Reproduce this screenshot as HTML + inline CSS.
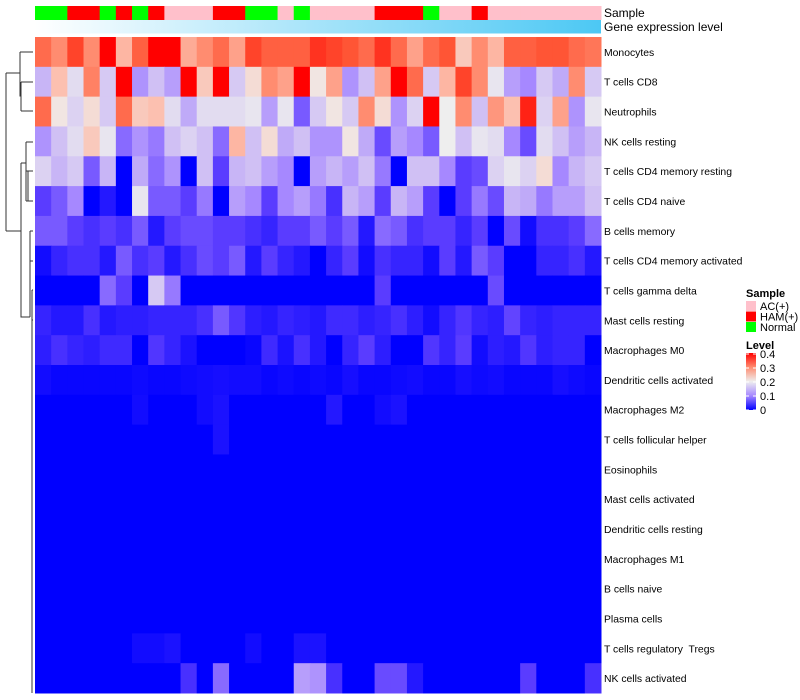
<!DOCTYPE html>
<html><head><meta charset="utf-8"><style>
body{margin:0;background:#fff;}
svg{display:block;font-family:"Liberation Sans",sans-serif;}
#labels text{white-space:pre;}
</style></head><body>
<svg id="chart" width="800" height="700" viewBox="0 0 800 700">
<defs>
<linearGradient id="geneGrad" x1="0" x2="1" y1="0" y2="0"><stop offset="0" stop-color="#ffffff"/><stop offset="1" stop-color="#4cc8f4"/></linearGradient>
<linearGradient id="levelGrad" x1="0" x2="0" y1="1" y2="0"><stop offset="0" stop-color="#0000ff"/><stop offset="0.25" stop-color="#a688ff"/><stop offset="0.5" stop-color="#eeeeee"/><stop offset="0.75" stop-color="#ff8c70"/><stop offset="1" stop-color="#ff0000"/></linearGradient>
</defs>
<g id="dendro" stroke="#333" fill="none" stroke-width="1">
<path d="M20,52 H33 M21,82 H33 M21,111 H33 M21,82 V111 M20,52 V96 H21 M20,73 H6 M6,73 V231 M6,231 H21 M21,163 V317 H30 M26,142 H33 M26,171 H33 M26,201 H33 M26,142 V201 M23,163 H26 M28,171 V201 M21,163 H26 M30,231 H33 M30,261 H33 M30,231 V317 M32,290 H33 M32,320 H33 M32,290 V693"/>
</g>
<g id="annot"></g>
<g id="cells"></g>
<g id="labels" font-size="10.4" fill="#000"></g>
<g id="legend" font-size="11"></g>
</svg>
<script>
const rowNames=["Monocytes","T cells CD8","Neutrophils","NK cells resting","T cells CD4 memory resting","T cells CD4 naive","B cells memory","T cells CD4 memory activated","T cells gamma delta","Mast cells resting","Macrophages M0","Dendritic cells activated","Macrophages M2","T cells follicular helper","Eosinophils","Mast cells activated","Dendritic cells resting","Macrophages M1","B cells naive","Plasma cells","T cells regulatory  Tregs","NK cells activated"];
const sampleGroups=["N","N","H","H","N","H","N","H","A","A","A","H","H","N","N","A","N","A","A","A","A","H","H","H","N","A","A","H","A","A","A","A","A","A","A"];
const r0=[0.33,0.30,0.36,0.30,0.40,0.26,0.34,0.40,0.40,0.27,0.30,0.33,0.28,0.36,0.34,0.34,0.34,0.37,0.36,0.35,0.33,0.37,0.33,0.28,0.33,0.35,0.24,0.30,0.26,0.34,0.34,0.35,0.35,0.33,0.32];
const r1=[0.14,0.25,0.18,0.31,0.16,0.40,0.11,0.15,0.12,0.40,0.24,0.40,0.16,0.22,0.30,0.28,0.40,0.21,0.28,0.11,0.15,0.28,0.40,0.33,0.16,0.26,0.36,0.30,0.19,0.12,0.10,0.16,0.13,0.30,0.16];
const r2=[0.33,0.21,0.17,0.22,0.16,0.33,0.24,0.25,0.18,0.13,0.18,0.18,0.18,0.19,0.12,0.19,0.07,0.16,0.21,0.16,0.30,0.22,0.11,0.17,0.40,0.20,0.30,0.15,0.29,0.25,0.38,0.17,0.28,0.11,0.19];
const r3=[0.11,0.15,0.18,0.24,0.19,0.08,0.11,0.09,0.15,0.17,0.15,0.08,0.26,0.15,0.22,0.13,0.15,0.11,0.11,0.21,0.13,0.06,0.12,0.10,0.07,0.20,0.15,0.19,0.18,0.10,0.06,0.18,0.15,0.12,0.14];
const r4=[0.17,0.14,0.16,0.07,0.14,0.0,0.13,0.08,0.11,0.0,0.15,0.05,0.14,0.15,0.12,0.10,0.0,0.12,0.14,0.12,0.15,0.09,0.0,0.15,0.15,0.10,0.05,0.06,0.17,0.19,0.17,0.22,0.10,0.14,0.16];
const r5=[0.05,0.07,0.10,0.0,0.02,0.0,0.19,0.07,0.07,0.05,0.09,0.0,0.12,0.10,0.05,0.10,0.12,0.09,0.04,0.14,0.12,0.05,0.14,0.12,0.05,0.0,0.05,0.09,0.06,0.14,0.13,0.09,0.12,0.12,0.15];
const r6=[0.07,0.07,0.05,0.04,0.05,0.04,0.07,0.02,0.05,0.06,0.06,0.05,0.05,0.04,0.03,0.05,0.05,0.07,0.05,0.07,0.02,0.08,0.07,0.04,0.05,0.05,0.03,0.05,0.0,0.06,0.01,0.04,0.04,0.05,0.08];
const r7=[0.01,0.03,0.04,0.04,0.02,0.07,0.04,0.05,0.02,0.04,0.06,0.05,0.07,0.02,0.05,0.03,0.02,0.0,0.03,0.05,0.01,0.04,0.03,0.03,0.01,0.05,0.02,0.07,0.05,0.0,0.0,0.03,0.03,0.04,0.02];
const r8=[0,0,0,0,0.08,0.05,0,0.16,0.09,0,0,0,0,0,0,0,0,0,0,0,0,0.05,0,0,0,0,0,0,0.06,0,0,0,0,0,0];
const r9=[0.03,0.02,0.02,0.04,0.02,0.025,0.025,0.03,0.03,0.03,0.04,0.07,0.045,0.025,0.02,0.03,0.025,0.02,0.035,0.035,0.025,0.03,0.04,0.025,0.01,0.03,0.045,0.03,0.025,0.055,0.03,0.025,0.03,0.03,0.03];
const r10=[0.025,0.04,0.03,0.025,0.035,0.035,0,0.045,0.03,0.015,0,0,0,0.005,0.035,0.015,0.04,0.02,0,0.03,0.05,0.025,0,0,0.045,0.03,0.05,0.01,0.025,0.02,0.045,0.025,0.03,0.03,0];
const r11=[0.01,0.005,0.005,0.005,0.005,0.005,0.008,0.005,0.005,0.008,0.01,0.012,0.01,0.01,0.005,0.008,0.005,0.008,0.005,0.012,0.005,0.005,0.008,0.01,0.005,0.005,0.012,0.008,0.01,0.005,0.005,0.005,0.012,0.008,0.005];
const r12=[0,0,0,0,0,0,0.01,0,0,0,0.01,0.015,0,0,0,0,0,0,0.02,0,0,0.01,0.015,0,0,0,0,0,0,0,0,0,0,0,0];
const r13=[0,0,0,0,0,0,0,0,0,0,0,0.015,0,0,0,0,0,0,0,0,0,0,0,0,0,0,0,0,0,0,0,0,0,0,0];
const zeros=new Array(35).fill(0);
const r20=[0,0,0,0,0,0,0.01,0.01,0.015,0,0,0,0,0.01,0,0,0.015,0.015,0,0,0,0,0,0,0,0,0,0,0,0,0,0,0,0,0];
const r21=[0,0,0,0,0,0,0,0,0,0.04,0,0.08,0,0,0,0,0.12,0.11,0.04,0,0,0.06,0.06,0.02,0,0,0,0,0,0,0.05,0,0,0,0.04];
const values=[r0,r1,r2,r3,r4,r5,r6,r7,r8,r9,r10,r11,r12,r13,zeros,zeros,zeros,zeros,zeros,zeros,r20,r21];
const levelTicks=[0,0.1,0.2,0.3,0.4];

const NS="http://www.w3.org/2000/svg";
const X0=35,X1=601,Y0=37,Y1=693;
const nC=sampleGroups.length,nR=rowNames.length;
const cw=(X1-X0)/nC,rh=(Y1-Y0)/nR;
function xPos(i){return X0+i*cw;}
function yPos(j){return Y0+j*rh;}
const stops=[[0,[0,0,255]],[0.05,[90,60,255]],[0.1,[166,136,255]],[0.15,[208,192,244]],[0.2,[238,238,238]],[0.25,[252,192,176]],[0.3,[255,140,112]],[0.35,[255,85,53]],[0.4,[255,0,0]]];
function color(v){v=Math.max(0,Math.min(0.4,v));for(let k=1;k<stops.length;k++){if(v<=stops[k][0]){const a=stops[k-1],b=stops[k];const t=(v-a[0])/(b[0]-a[0]);const c=a[1].map((x,i)=>Math.round(x+(b[1][i]-x)*t));return`rgb(${c})`;}}return"red";}
const sampleColor={A:"#ffc0cb",H:"#ff0000",N:"#00ff00"};
function mk(tag,attrs,parent){const e=document.createElementNS(NS,tag);for(const k in attrs)e.setAttribute(k,attrs[k]);parent.appendChild(e);return e;}
const annot=document.getElementById("annot");
sampleGroups.forEach((g,i)=>{
 const r=mk("rect",{x:xPos(i),y:6,width:cw+0.5,height:14,fill:sampleColor[g]},annot);
 
 
});
const gr=mk("rect",{x:X0,y:20,width:X1-X0,height:13.5,fill:"url(#geneGrad)"},annot);


const cells=document.getElementById("cells");
values.forEach((row,j)=>row.forEach((v,i)=>{
 const r=mk("rect",{x:xPos(i),y:yPos(j),width:cw+0.5,height:rh+0.5,fill:color(v)},cells);
 
 
}));
const labels=document.getElementById("labels");
const t1=mk("text",{x:604,y:17,"font-size":12},labels);t1.textContent="Sample";


const t2=mk("text",{x:604,y:31,"font-size":12},labels);t2.textContent="Gene expression level";


rowNames.forEach((n,j)=>{
 const t=mk("text",{x:604,y:yPos(j)+rh/2+4},labels);t.textContent=n;
 
 
});
const lg=document.getElementById("legend");
const st=mk("text",{x:746,y:297,"font-weight":"bold"},lg);st.textContent="Sample";


[["A","AC(+)"],["H","HAM(+)"],["N","Normal"]].forEach((e,k)=>{
 const b=mk("rect",{x:746,y:301+k*10.5,width:10,height:10,fill:sampleColor[e[0]]},lg);
 
 
 const t=mk("text",{x:760,y:310+k*10.5},lg);t.textContent=e[1];
 
 
});
const lt=mk("text",{x:746,y:349,"font-weight":"bold"},lg);lt.textContent="Level";


const cb=mk("rect",{x:746,y:353,width:10,height:57,fill:"url(#levelGrad)"},lg);


levelTicks.forEach(v=>{
 const y=410-v/0.4*56;
 mk("line",{x1:746,x2:749,y1:y,y2:y,stroke:"#fff"},lg);
 mk("line",{x1:753,x2:756,y1:y,y2:y,stroke:"#fff"},lg);
 const t=mk("text",{x:760,y:y+4},lg);t.textContent=String(v);
 
 
});
</script>
</body></html>
